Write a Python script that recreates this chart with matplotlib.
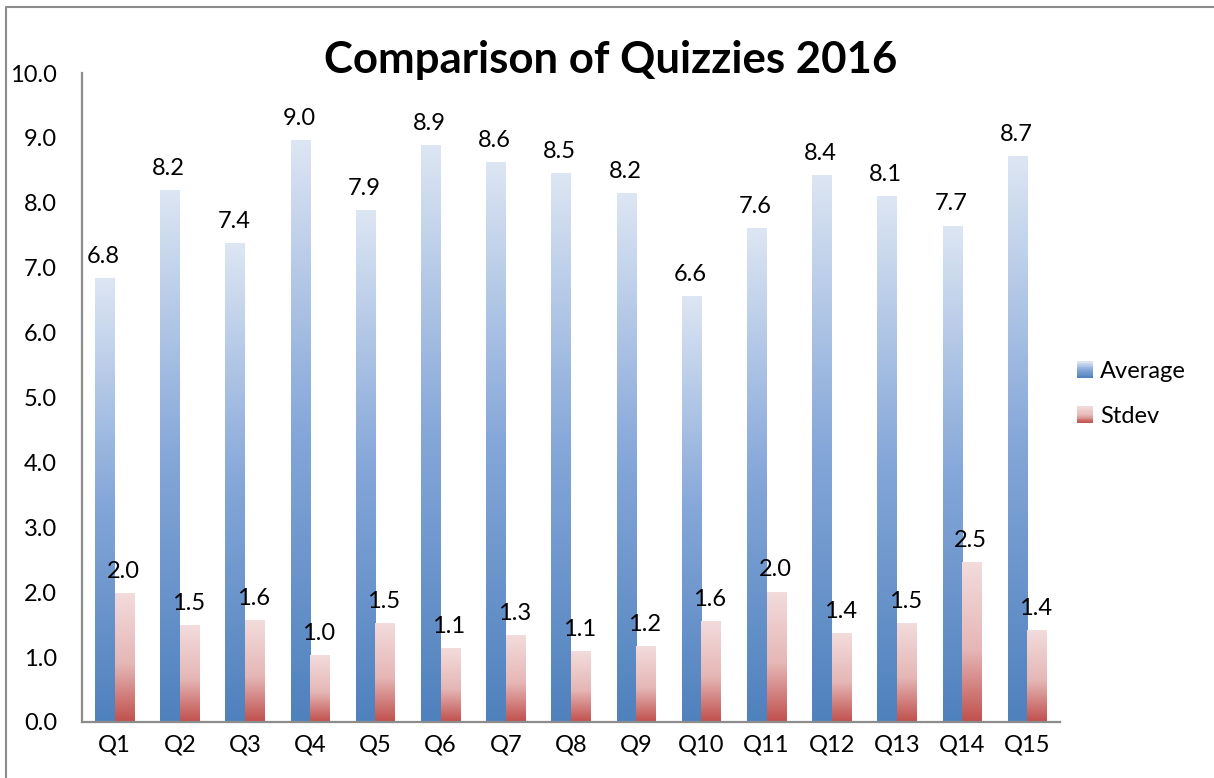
import numpy as np
import matplotlib
matplotlib.use("Agg")
import matplotlib.pyplot as plt
from matplotlib.colors import LinearSegmentedColormap
from matplotlib.patches import Rectangle
from matplotlib.lines import Line2D
from matplotlib.legend_handler import HandlerBase

categories = ["Q1", "Q2", "Q3", "Q4", "Q5", "Q6", "Q7", "Q8", "Q9", "Q10",
              "Q11", "Q12", "Q13", "Q14", "Q15"]
average = [6.84, 8.20, 7.38, 8.97, 7.89, 8.89, 8.63, 8.46, 8.15, 6.56,
           7.61, 8.43, 8.10, 7.65, 8.72]
stdev = [1.99, 1.49, 1.57, 1.03, 1.53, 1.14, 1.34, 1.09, 1.17, 1.56,
         2.01, 1.37, 1.53, 2.47, 1.42]
yticks = [0, 1, 2, 3, 4, 5, 6, 7, 8, 9, 10]
title = "Comparison of Quizzies 2016"

plt.rcParams['font.family'] = ['Lato', 'DejaVu Sans']
FS = 17

blue_cmap = LinearSegmentedColormap.from_list(
    "blue", [(0.0, "#4F81BD"), (0.5, "#85A7D9"), (1.0, "#DDE6F3")])
red_cmap = LinearSegmentedColormap.from_list(
    "red", [(0.0, "#C0504D"), (0.45, "#E5B7B6"), (1.0, "#F3DCDC")])

W, H = 1214, 778
fig = plt.figure(figsize=(W / 100, H / 100), dpi=100)
ax = fig.add_axes([82 / W, 1 - 722 / H, (1060 - 82) / W, (722 - 73) / H])

x = np.arange(len(categories))
bw = 0.30
grad = np.linspace(0, 1, 256).reshape(-1, 1)

def gradient_bars(xpos, vals, cmap):
    bars = ax.bar(xpos, vals, width=bw, facecolor="none", edgecolor="none", zorder=2)
    for b in bars:
        x0, w, h = b.get_x(), b.get_width(), b.get_height()
        im = ax.imshow(grad, extent=[x0, x0 + w, 0, h], origin="lower",
                       cmap=cmap, aspect="auto", zorder=2, interpolation="bilinear")
        im.set_clip_path(b)
    return bars

gradient_bars(x - bw / 2, average, blue_cmap)
gradient_bars(x + bw / 2, stdev, red_cmap)

for xi, v in zip(x - bw / 2, average):
    ax.annotate(f"{v:.1f}", (xi, v), xytext=(-1, 8), textcoords="offset points",
                ha="center", va="bottom", fontsize=FS)
for xi, v in zip(x + bw / 2, stdev):
    ax.annotate(f"{v:.1f}", (xi, v), xytext=(-1, 8), textcoords="offset points",
                ha="center", va="bottom", fontsize=FS)

ax.set_xlim(-0.5, len(categories) - 0.5)
ax.set_ylim(0, 10)
ax.set_yticks(yticks)
ax.set_yticklabels([f"{t:.1f}" for t in yticks], fontsize=FS)
ax.set_xticks(x)
ax.set_xticklabels(categories, fontsize=FS)
ax.tick_params(axis="y", length=0, pad=18)
ax.tick_params(axis="x", length=0, pad=9)
for s in ["top", "right"]:
    ax.spines[s].set_visible(False)
for s in ["left", "bottom"]:
    ax.spines[s].set_color("#8C8C8C")
    ax.spines[s].set_linewidth(1.6)

fig.text(611 / W, 1 - 60 / H, title, ha="center", va="center",
         fontsize=31.5, fontweight="bold")

class GradHandler(HandlerBase):
    def __init__(self, cmap):
        super().__init__()
        self.cmap = cmap
    def create_artists(self, legend, orig_handle, xdescent, ydescent, width,
                       height, fontsize, trans):
        n = 20
        arts = []
        for i in range(n):
            r = Rectangle((-xdescent, -ydescent + height * i / n), width, height / n + 0.3,
                          facecolor=self.cmap((i + 0.5) / n), edgecolor="none",
                          transform=trans)
            arts.append(r)
        return arts

h1 = Rectangle((0, 0), 1, 1)
h2 = Rectangle((0, 0), 1, 1)
fig.legend([h1, h2], ["Average", "Stdev"],
           handler_map={h1: GradHandler(blue_cmap), h2: GradHandler(red_cmap)},
           loc="center left", bbox_to_anchor=(1070 / W, 1 - 394 / H),
           frameon=False, fontsize=FS, handlelength=0.68, handleheight=0.68,
           handletextpad=0.3, labelspacing=1.0, borderaxespad=0, borderpad=0.3)

fig.add_artist(Line2D([6 / W, 6 / W, 1.0], [0.0, 1 - 7 / H, 1 - 7 / H],
                      transform=fig.transFigure, color="#8C8C8C", linewidth=1.5))

fig.savefig("out.png", dpi=100)
